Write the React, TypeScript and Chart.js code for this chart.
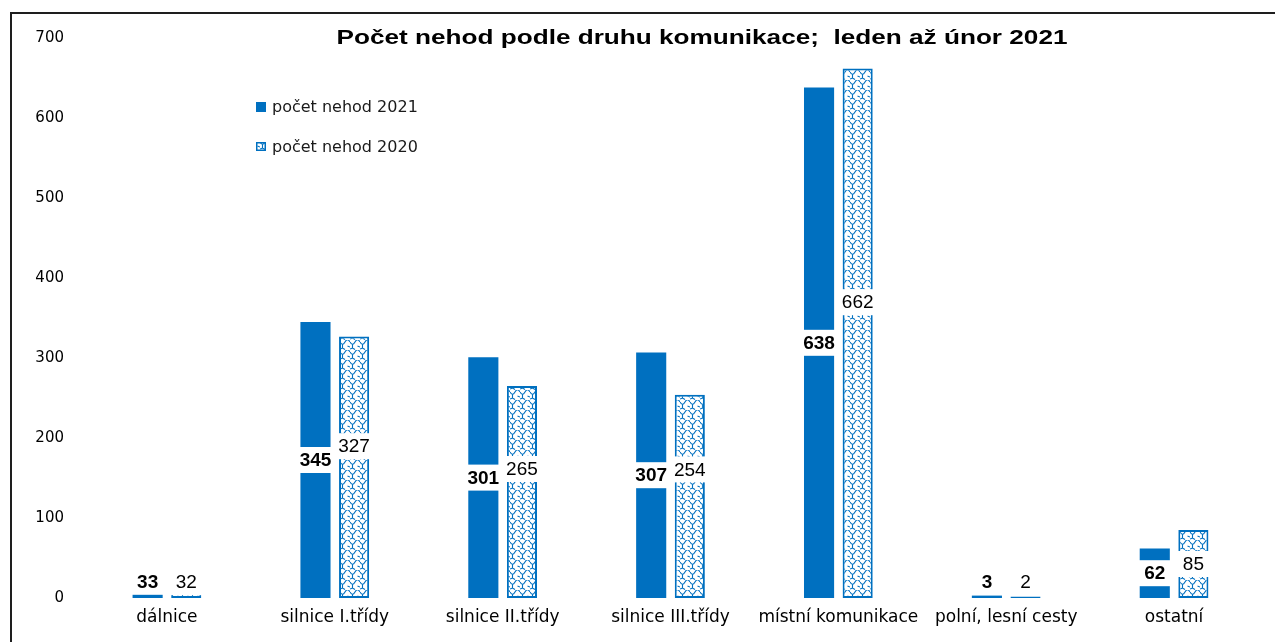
import React, { useEffect, useRef } from "react";
import { Chart, registerables } from "chart.js";

Chart.register(...registerables);

const categories = [
  "dálnice",
  "silnice I.třídy",
  "silnice II.třídy",
  "silnice III.třídy",
  "místní komunikace",
  "polní, lesní cesty",
  "ostatní",
];
const values2021 = [33, 345, 301, 307, 638, 3, 62];
const values2020 = [32, 327, 265, 254, 662, 2, 85];
const seriesNames = ["počet nehod 2021", "počet nehod 2020"];
const titleText = "Počet nehod podle druhu komunikace;  leden až únor 2021";
const yMin = 0;
const yMax = 700;
const yStep = 100;

// vertical label nudges (px), as placed in the original
const labelNudge2021 = [-3, 0, 0, 0, 0, -15, 0];
const labelNudge2020 = [-3, -21, -23, -27, -31, -15, 0];

const BLUE = "#0070C0";

function makePattern(): CanvasPattern | string {
  const c = document.createElement("canvas");
  c.width = 10;
  c.height = 10;
  const g = c.getContext("2d");
  if (!g) return "#fff";
  g.fillStyle = "#ffffff";
  g.fillRect(0, 0, 10, 10);
  g.strokeStyle = BLUE;
  g.lineWidth = 1.1;
  g.beginPath();
  g.moveTo(0, 2);
  g.quadraticCurveTo(2.5, 6.5, 5, 2);
  g.quadraticCurveTo(7.5, -2.5, 10, 2);
  g.moveTo(2.5, 4.5);
  g.lineTo(2.5, 8);
  g.moveTo(0, 9);
  g.lineTo(2.5, 8);
  g.lineTo(5, 9.5);
  g.moveTo(7.5, 6);
  g.lineTo(10, 7);
  g.stroke();
  const p = g.createPattern(c, "repeat");
  return p || "#fff";
}

function drawStretched(
  ctx: CanvasRenderingContext2D,
  text: string,
  x: number,
  y: number,
  font: string,
  targetWidth: number,
  align: "left" | "center"
) {
  ctx.save();
  ctx.font = font;
  const w = ctx.measureText(text).width;
  const sx = targetWidth / w;
  ctx.translate(x, y);
  ctx.scale(sx, 1);
  ctx.textAlign = align;
  ctx.textBaseline = "alphabetic";
  ctx.fillText(text, 0, 0);
  ctx.restore();
}

export default function App() {
  const ref = useRef<HTMLCanvasElement | null>(null);

  useEffect(() => {
    if (!ref.current) return;
    const pattern = makePattern();

    const framePlugin = {
      id: "frame",
      beforeDraw(chart: any) {
        const ctx = chart.ctx as CanvasRenderingContext2D;
        ctx.save();
        ctx.fillStyle = "#ffffff";
        ctx.fillRect(0, 0, chart.width, chart.height);
        ctx.strokeStyle = "#1e1e1e";
        ctx.lineWidth = 2;
        ctx.beginPath();
        ctx.moveTo(11, chart.height);
        ctx.lineTo(11, 13);
        ctx.lineTo(chart.width, 13);
        ctx.stroke();
        ctx.restore();
      },
      afterDraw(chart: any) {
        const ctx = chart.ctx as CanvasRenderingContext2D;
        ctx.save();
        ctx.fillStyle = "#000";
        drawStretched(ctx, titleText, 702, 44, "bold 20px 'Liberation Sans', Arial, sans-serif", 731, "center");
        // legend
        ctx.fillStyle = BLUE;
        ctx.fillRect(256, 102, 10, 10);
        ctx.fillStyle = pattern as any;
        ctx.fillRect(256, 142, 10, 9);
        ctx.strokeStyle = BLUE;
        ctx.lineWidth = 1.5;
        ctx.strokeRect(256.75, 142.75, 8.5, 7.5);
        ctx.fillStyle = "#1a1a1a";
        ctx.font = "16px 'DejaVu Sans', sans-serif";
        ctx.textAlign = "left";
        ctx.textBaseline = "alphabetic";
        ctx.fillText(seriesNames[0], 272, 112);
        ctx.fillText(seriesNames[1], 272, 152);
        ctx.restore();
      },
    };

    const labelPlugin = {
      id: "valueLabels",
      afterDatasetsDraw(chart: any) {
        const ctx = chart.ctx as CanvasRenderingContext2D;
        const nudges = [labelNudge2021, labelNudge2020];
        chart.data.datasets.forEach((ds: any, i: number) => {
          const meta = chart.getDatasetMeta(i);
          ctx.save();
          ctx.font = (i === 0 ? "bold " : "") + "19px 'Liberation Sans', Arial, sans-serif";
          ctx.textAlign = "center";
          ctx.textBaseline = "middle";
          meta.data.forEach((bar: any, j: number) => {
            const p = bar.getProps(["x", "y", "base", "width"], true);
            const cy = (p.y + p.base) / 2 + nudges[i][j];
            const txt = String(ds.data[j]);
            const tw = ctx.measureText(txt).width;
            const bw = Math.max(tw + 8, p.width + 4);
            ctx.fillStyle = "#ffffff";
            ctx.fillRect(p.x - bw / 2, cy - 13, bw, 26);
            ctx.fillStyle = "#000";
            ctx.fillText(txt, p.x, cy + 1);
          });
          ctx.restore();
        });
      },
    };

    const chart = new Chart(ref.current, {
      type: "bar",
      data: {
        labels: categories,
        datasets: [
          {
            label: seriesNames[0],
            data: values2021,
            backgroundColor: BLUE,
            borderWidth: 0,
            categoryPercentage: 0.46,
            barPercentage: 0.78,
          },
          {
            label: seriesNames[1],
            data: values2020,
            backgroundColor: pattern as any,
            borderColor: BLUE,
            borderWidth: 2,
            borderSkipped: false,
            categoryPercentage: 0.46,
            barPercentage: 0.78,
          },
        ],
      },
      options: {
        responsive: false,
        animation: false,
        layout: { padding: { left: 0, top: 38, right: 17, bottom: 0 } },
        plugins: {
          legend: { display: false },
          title: { display: false },
          tooltip: { enabled: false },
        },
        scales: {
          x: {
            grid: { display: false, drawTicks: false },
            border: { display: false },
            ticks: {
              color: "#000",
              font: { family: "'DejaVu Sans', sans-serif", size: 17 },
              padding: 9,
              maxRotation: 0,
              autoSkip: false,
            },
            afterFit: (s: any) => {
              s.height = 44;
            },
          },
          y: {
            min: yMin,
            max: yMax,
            grid: { display: false, drawTicks: false },
            border: { display: false },
            ticks: {
              stepSize: yStep,
              color: "#000",
              font: { family: "'DejaVu Sans', sans-serif", size: 15 },
              padding: 19,
            },
            afterFit: (s: any) => {
              s.width = 83;
            },
          },
        },
      },
      plugins: [framePlugin, labelPlugin],
    });

    return () => chart.destroy();
  }, []);

  return (
    <div style={{ position: "absolute", left: 0, top: 0, width: 1275, height: 642, background: "#fff" }}>
      <canvas ref={ref} width={1275} height={642} style={{ display: "block" }} />
    </div>
  );
}
